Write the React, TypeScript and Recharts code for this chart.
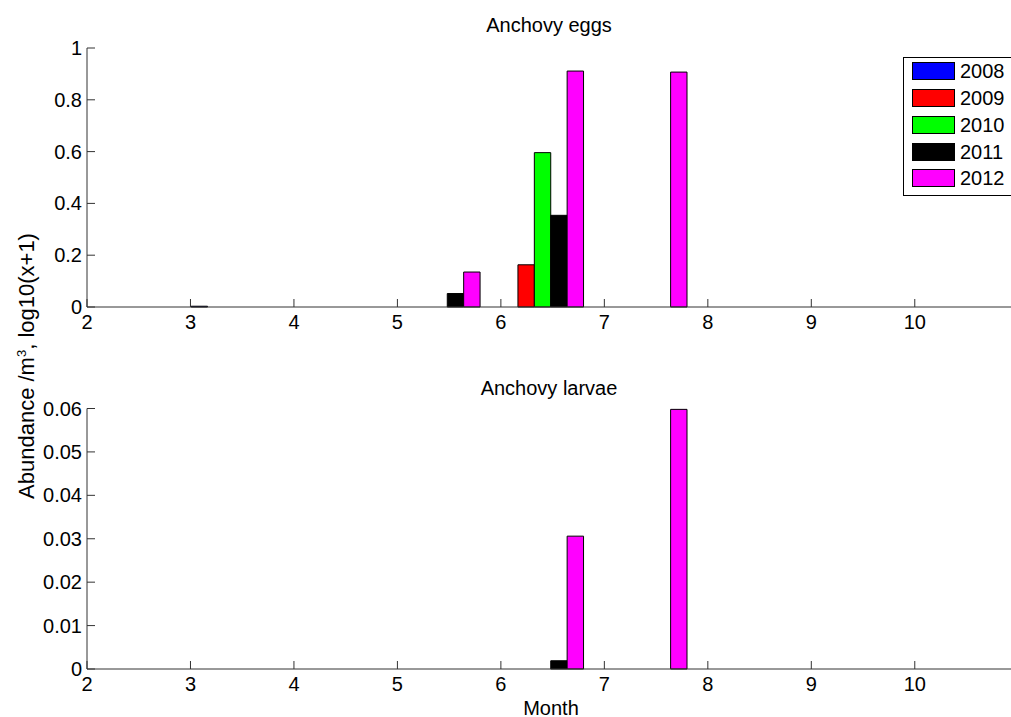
import React from 'react';
import { BarChart, Bar, XAxis, YAxis } from 'recharts';

// group centres along the month axis
const months = [3.4, 4.4, 5.4, 6.4, 7.4, 8.4, 9.4, 10.4];
const years = ['2008', '2009', '2010', '2011', '2012'];
const yearColors = ['#0000ff', '#ff0000', '#00ff00', '#000000', '#ff00ff'];

// Anchovy eggs, log10(x+1)
const eggs2008 = [0.003, 0, 0, 0, 0, 0, 0, 0];
const eggs2009 = [0, 0, 0, 0.163, 0, 0, 0, 0];
const eggs2010 = [0, 0, 0, 0.596, 0, 0, 0, 0];
const eggs2011 = [0, 0, 0.052, 0.354, 0, 0, 0, 0];
const eggs2012 = [0, 0, 0.135, 0.911, 0.907, 0, 0, 0];

// Anchovy larvae, log10(x+1)
const larvae2008 = [0, 0, 0, 0, 0, 0, 0, 0];
const larvae2009 = [0, 0, 0, 0, 0, 0, 0, 0];
const larvae2010 = [0, 0, 0, 0, 0, 0, 0, 0];
const larvae2011 = [0, 0, 0, 0.0019, 0, 0, 0, 0];
const larvae2012 = [0, 0, 0, 0.0306, 0.0598, 0, 0, 0];

const xTicks = [2, 3, 4, 5, 6, 7, 8, 9, 10];
const eggTicks = [0, 0.2, 0.4, 0.6, 0.8, 1];
const larvaeTicks = [0, 0.01, 0.02, 0.03, 0.04, 0.05, 0.06];

const buildRows = (series: number[][]) =>
  months.map((m, i) => {
    const row: Record<string, number> = { month: m };
    years.forEach((y, j) => {
      row['y' + y] = series[j][i];
    });
    return row;
  });

const eggsData = buildRows([eggs2008, eggs2009, eggs2010, eggs2011, eggs2012]);
const larvaeData = buildRows([larvae2008, larvae2009, larvae2010, larvae2011, larvae2012]);

const FONT = '"Liberation Sans", Arial, sans-serif';
const AXIS = '#333';

const XTick = (props: any) => {
  const { x, y, payload } = props;
  return (
    <g>
      <line x1={x} y1={y} x2={x} y2={y - 8} stroke={AXIS} />
      <text x={x} y={y + 22} textAnchor="middle" fontSize={20} fontFamily={FONT} fill="#000">
        {payload.value}
      </text>
    </g>
  );
};

const YTick = (props: any) => {
  const { x, y, payload } = props;
  return (
    <g>
      <line x1={x} y1={y} x2={x + 8} y2={y} stroke={AXIS} />
      <text x={x - 5} y={y + 7} textAnchor="end" fontSize={20} fontFamily={FONT} fill="#000">
        {payload.value}
      </text>
    </g>
  );
};

const LegendBox = () => (
  <div
    style={{
      position: 'absolute',
      left: 903,
      top: 57,
      border: '1px solid #000',
      background: '#fff',
      width: 120,
      padding: '0 0 3px 8px',
      fontFamily: FONT,
      fontSize: 20,
      boxSizing: 'border-box',
    }}
  >
    {years.map((y, i) => (
      <div key={y} style={{ display: 'flex', alignItems: 'center', height: 26.75 }}>
        <div
          style={{
            width: 43,
            height: 18,
            background: yearColors[i],
            border: '1px solid #000',
            boxSizing: 'border-box',
            marginRight: 5,
          }}
        />
        <span style={{ lineHeight: '20px' }}>{y}</span>
      </div>
    ))}
  </div>
);

const textStyle: React.CSSProperties = {
  position: 'absolute',
  fontFamily: FONT,
  fontSize: 20,
  color: '#000',
  whiteSpace: 'nowrap',
  transform: 'translate(-50%, -50%)',
};

const renderBars = () =>
  years.map((y, i) => (
    <Bar
      key={y}
      dataKey={'y' + y}
      name={y}
      fill={yearColors[i]}
      stroke="#000"
      strokeWidth={1}
      barSize={16.4}
      isAnimationActive={false}
    />
  ));

export default function App() {
  return (
    <div
      style={{
        position: 'absolute',
        left: 0,
        top: 0,
        width: 1011,
        height: 717,
        overflow: 'hidden',
        background: '#fff',
      }}
    >
      <div style={{ position: 'absolute', left: 0, top: 0 }}>
        <BarChart
          width={1011}
          height={340}
          data={eggsData}
          margin={{ top: 48, right: 0, bottom: 0, left: 0 }}
          barGap={0}
        >
          <XAxis
            type="number"
            dataKey="month"
            domain={[2, 10.93]}
            ticks={xTicks}
            interval={0}
            allowDataOverflow
            height={33}
            tickSize={0}
            tickMargin={0}
            tickLine={false}
            axisLine={{ stroke: AXIS }}
            tick={<XTick />}
          />
          <YAxis
            type="number"
            domain={[0, 1]}
            ticks={eggTicks}
            interval={0}
            width={87}
            tickSize={0}
            tickMargin={0}
            tickLine={false}
            axisLine={{ stroke: AXIS }}
            tick={<YTick />}
          />
          {renderBars()}
        </BarChart>
      </div>
      <div style={{ position: 'absolute', left: 0, top: 340 }}>
        <BarChart
          width={1011}
          height={377}
          data={larvaeData}
          margin={{ top: 68.5, right: 0, bottom: 0, left: 0 }}
          barGap={0}
        >
          <XAxis
            type="number"
            dataKey="month"
            domain={[2, 10.93]}
            ticks={xTicks}
            interval={0}
            allowDataOverflow
            height={48}
            tickSize={0}
            tickMargin={0}
            tickLine={false}
            axisLine={{ stroke: AXIS }}
            tick={<XTick />}
          />
          <YAxis
            type="number"
            domain={[0, 0.06]}
            ticks={larvaeTicks}
            interval={0}
            width={87}
            tickSize={0}
            tickMargin={0}
            tickLine={false}
            axisLine={{ stroke: AXIS }}
            tick={<YTick />}
          />
          {renderBars()}
        </BarChart>
      </div>
      <LegendBox />
      <div style={{ ...textStyle, left: 549, top: 25 }}>Anchovy eggs</div>
      <div style={{ ...textStyle, left: 549, top: 388 }}>Anchovy larvae</div>
      <div style={{ ...textStyle, left: 551, top: 708 }}>Month</div>
      <div
        style={{
          ...textStyle,
          fontSize: 22,
          left: 27,
          top: 366,
          transform: 'translate(-50%, -50%) rotate(-90deg)',
        }}
      >
        Abundance /m<sup style={{ fontSize: 13, verticalAlign: 'super', lineHeight: 0 }}>3</sup>, log10(x+1)
      </div>
    </div>
  );
}
